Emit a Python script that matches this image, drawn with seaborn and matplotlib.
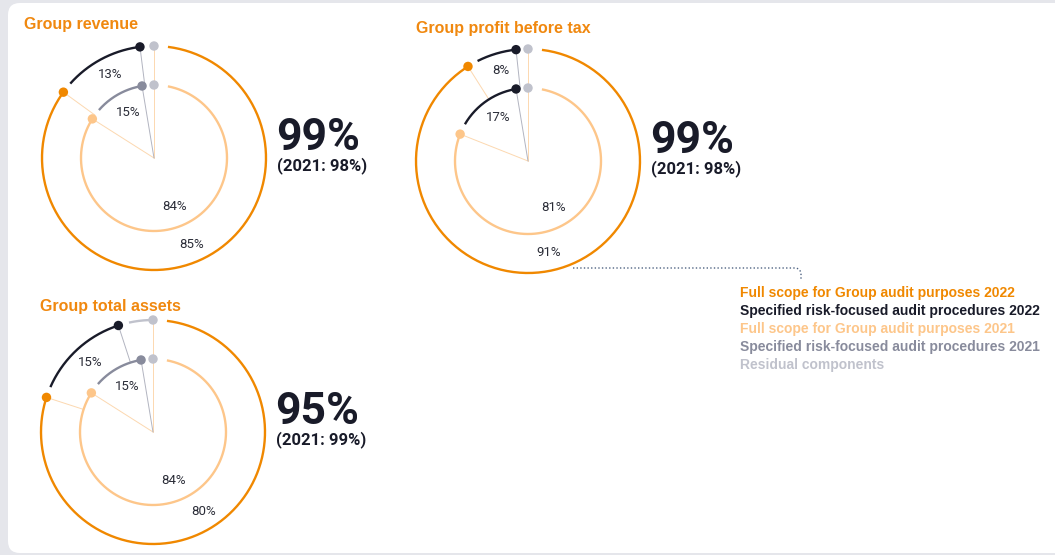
import numpy as np
import pandas as pd
import seaborn as sns
import matplotlib.pyplot as plt
from matplotlib.patches import FancyBboxPatch

sns.set_theme(style="white")
plt.rcParams['font.family'] = ['Liberation Sans', 'DejaVu Sans']

# ---- data -------------------------------------------------------------
panels = ["Group revenue", "Group profit before tax", "Group total assets"]
segments = ["Full scope", "Specified risk-focused", "Residual"]

revenue_2022 = [85, 13, 2]
revenue_2021 = [84, 15, 1]
profit_2022 = [91, 8, 1]
profit_2021 = [81, 17, 2]
assets_2022 = [80, 15, 5]
assets_2021 = [84, 15, 1]

coverage_2022 = [99, 99, 95]
coverage_2021 = [98, 98, 99]

legend_labels = [
    "Full scope for Group audit purposes 2022",
    "Specified risk-focused audit procedures 2022",
    "Full scope for Group audit purposes 2021",
    "Specified risk-focused audit procedures 2021",
    "Residual components",
]

# ---- styling ----------------------------------------------------------
ORANGE = "#f08800"
NAVY = "#191b29"
PEACH = "#fdc68a"
SLATE = "#888b9c"
MIST = "#c0c2cc"
PEACH_LINE = "#fcd8b0"
SLATE_LINE = "#b2b4c0"
TITLE_C = "#f0880f"
TEXT_C = "#2a2c37"
legend_colors = [ORANGE, NAVY, PEACH, SLATE, MIST]

outer_colors = [ORANGE, NAVY, MIST]
inner_colors = {
    "Group revenue": [PEACH, SLATE, MIST],
    "Group profit before tax": [PEACH, NAVY, MIST],
    "Group total assets": [PEACH, SLATE, MIST],
}
ray_colors = [PEACH_LINE, SLATE_LINE, PEACH_LINE]

W, H = 1055, 555
R_OUT, R_IN = 112, 73

# donut centres and title anchors (pixels)
layout = {
    "Group revenue": dict(c=(154, 158), title=(24, 29)),
    "Group profit before tax": dict(c=(528, 161), title=(416, 33)),
    "Group total assets": dict(c=(153, 432), title=(40, 311)),
}
data_2022 = dict(zip(panels, [revenue_2022, profit_2022, assets_2022]))
data_2021 = dict(zip(panels, [revenue_2021, profit_2021, assets_2021]))

fig = plt.figure(figsize=(W / 100, H / 100), dpi=100, facecolor="#e5e6eb")
bg = fig.add_axes([0, 0, 1, 1])
bg.set_xlim(0, W)
bg.set_ylim(H, 0)
bg.axis("off")
bg.add_patch(FancyBboxPatch((8, 3), W + 30, 550,
                            boxstyle="round,pad=0,rounding_size=12",
                            fc="white", ec="none", zorder=0))


def draw_ring(ax, values, colors, r_px, inner_to):
    r = r_px / R_OUT
    ends = np.cumsum(values) / 100 * 360
    sep = np.degrees(12 / r_px)
    gap_first = np.degrees(14 / r_px)
    gap = np.degrees(11 / r_px)
    prev = 0.0
    dots = []
    for i, (v, end) in enumerate(zip(values, ends)):
        last = i == len(values) - 1
        dot = 360.0 if last else min(end, 360 - sep)
        start = gap_first if i == 0 else prev + gap
        if dot - start > 0.3:
            th = np.radians(np.linspace(start, dot, 200))
            ax.plot(th, np.full_like(th, r), color=colors[i], lw=1.7,
                    solid_capstyle="butt", clip_on=False, zorder=3)
        if not last:
            ax.plot([np.radians(dot)] * 2, [r, inner_to], color=ray_colors[i],
                    lw=0.7, clip_on=False, zorder=2)
            mid = np.radians((start + dot) / 2)
            lab_r = 0.84 if r_px == R_OUT else 0.47
            ax.text(mid, lab_r, f"{v}%", ha="center", va="center",
                    fontsize=9.5, color=TEXT_C, family=["Roboto", "DejaVu Sans"])
        dots.append(dict(theta=np.radians(dot % 360), r=r, seg=segments[i]))
        prev = dot
    pts = pd.DataFrame(dots)
    sns.scatterplot(data=pts, x="theta", y="r", hue="seg",
                    palette=dict(zip(segments, colors)), legend=False,
                    s=46, linewidth=0, ax=ax, clip_on=False, zorder=5)


for i, name in enumerate(panels):
    cx, cy = layout[name]["c"]
    ax = fig.add_axes([(cx - R_OUT) / W, 1 - (cy + R_OUT) / H,
                       2 * R_OUT / W, 2 * R_OUT / H], projection="polar")
    ax.set_theta_zero_location("N")
    ax.set_theta_direction(-1)
    ax.patch.set_alpha(0)
    # radial guide at 12 o'clock
    ax.plot([0, 0], [1, 0], color=PEACH_LINE, lw=0.7, zorder=1, clip_on=False)
    draw_ring(ax, data_2022[name], outer_colors, R_OUT, R_IN / R_OUT)
    draw_ring(ax, data_2021[name], inner_colors[name], R_IN, 0)
    ax.set_ylim(0, 1)
    ax.set_axis_off()

    tx, ty = layout[name]["title"]
    bg.text(tx, ty, name, fontsize=11.5, weight="bold", color=TITLE_C,
            va="baseline", ha="left")
    bg.text(cx + 122, cy - 8, f"{coverage_2022[i]}%", fontsize=32,
            weight="bold", color=NAVY, va="baseline", ha="left",
            family=["Roboto", "DejaVu Sans"])
    bg.text(cx + 123, cy + 12, f"(2021: {coverage_2021[i]}%)", fontsize=12,
            weight="bold", color=NAVY, va="baseline", ha="left",
            family=["Roboto", "DejaVu Sans"])

# dotted leader from the profit chart to the key
t = np.linspace(0, np.pi / 2, 20)
lx = np.r_[573, 795 + 6 * np.sin(t), 801]
ly = np.r_[268, 268 + 6 * (1 - np.cos(t)), 279]
bg.plot(lx, ly, color="#4f6382", lw=1.0, ls=(0, (1, 1.6)), zorder=2)

for k, (lab, col) in enumerate(zip(legend_labels, legend_colors)):
    bg.text(740, 297 + 18 * k, lab, fontsize=10, weight="bold", color=col,
            va="baseline", ha="left")

fig.savefig("out.png", dpi=100, facecolor=fig.get_facecolor())
